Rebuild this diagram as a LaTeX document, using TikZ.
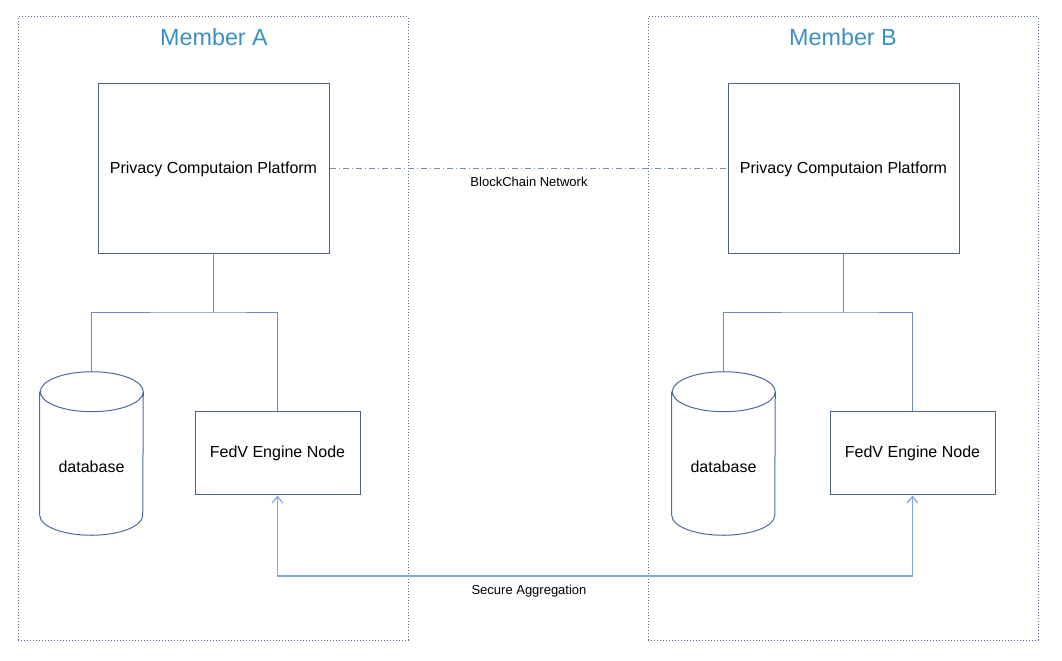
\documentclass[tikz,border=0pt]{standalone}
\usepackage{fontspec}
\setmainfont{Liberation Sans}
\usetikzlibrary{arrows.meta}
\definecolor{boxc}{HTML}{506483}
\definecolor{dbc}{HTML}{4A6A9E}
\definecolor{connc}{HTML}{6C8EBF}
\definecolor{aggc}{HTML}{7EA6E0}
\definecolor{dotc}{HTML}{4F6B8C}
\definecolor{titlec}{HTML}{3A8FC6}
\definecolor{chainc}{HTML}{7A8CA8}
\begin{document}
\begin{tikzpicture}[x=0.75pt,y=0.75pt,
  member/.style={draw=dotc,line width=0.75pt,dash pattern=on 0.75pt off 1.5pt},
  titletxt/.style={text=titlec,font=\fontsize{17.5}{20}\selectfont},
  pbox/.style={draw=boxc,line width=0.75pt,minimum width=173.25pt,minimum height=127.5pt,font=\fontsize{12}{14}\selectfont,inner sep=0pt},
  fbox/.style={draw=boxc,line width=0.75pt,minimum width=123.75pt,minimum height=62.25pt,font=\fontsize{12}{14}\selectfont,inner sep=0pt},
  dbshape/.style={minimum width=77.25pt,minimum height=122.25pt,inner sep=0pt},
  dbline/.style={draw=dbc,line width=0.75pt},
  txt/.style={font=\fontsize{12}{14}\selectfont},
  small/.style={font=\fontsize{9.75}{12}\selectfont},
  conn/.style={draw=connc,line width=0.75pt},
  agg/.style={draw=aggc,line width=0.9pt,{Straight Barb[length=5pt,width=8pt]}-{Straight Barb[length=5pt,width=8pt]}},
  chain/.style={draw=chainc,line width=0.75pt,dash pattern=on 4.5pt off 2.25pt on 0.75pt off 2.25pt}]
\useasboundingbox (0,0) rectangle (1062,660);
% member frames
\draw[member] (18,20) rectangle (408,643);
\draw[member] (648,20) rectangle (1038,643);
\node[titletxt] (tA) at (214,623) {Member A};
\node[titletxt] (tB) at (843,623) {Member B};
% platforms
\node[pbox] (pcpA) at (213.5,491) {Privacy Computaion Platform};
\node[pbox] (pcpB) at (843.5,491) {Privacy Computaion Platform};
% engine nodes
\node[fbox] (fedA) at (277.5,206.5) {FedV Engine Node};
\node[fbox] (fedB) at (912.5,206.5) {FedV Engine Node};
% databases
\node[dbshape] (dbA) at (91.5,206.5) {};
\node[dbshape] (dbB) at (723.5,206.5) {};
\foreach \d in {dbA,dbB}{
  \draw[dbline] ([yshift=-15pt]\d.north west) -- ([yshift=15pt]\d.south west)
    arc[start angle=180,end angle=360,x radius=51.5,y radius=20]
    -- ([yshift=-15pt]\d.north east)
    arc[start angle=0,end angle=360,x radius=51.5,y radius=20];
}
\node[txt] (dbtA) at ([yshift=-10pt]dbA.center) {database};
\node[txt] (dbtB) at ([yshift=-10pt]dbB.center) {database};
% internal connectors
\draw[conn] (pcpA.south) -- (pcpA.south |- 0,347) coordinate (jA);
\draw[conn] (dbA.north) |- (jA) -| (fedA.north);
\draw[conn] (pcpB.south) -- (pcpB.south |- 0,347) coordinate (jB);
\draw[conn] (dbB.north) |- (jB) -| (fedB.north);
% blockchain
\draw[chain] (pcpA.east) -- (pcpB.west);
\node[small] (bcl) at (529,478) {BlockChain Network};
% secure aggregation
\coordinate (sa) at (529,84);
\draw[agg] (fedA.south) |- (sa) -| (fedB.south);
\node[small] (sal) at (529,69) {Secure Aggregation};
\end{tikzpicture}
\end{document}
